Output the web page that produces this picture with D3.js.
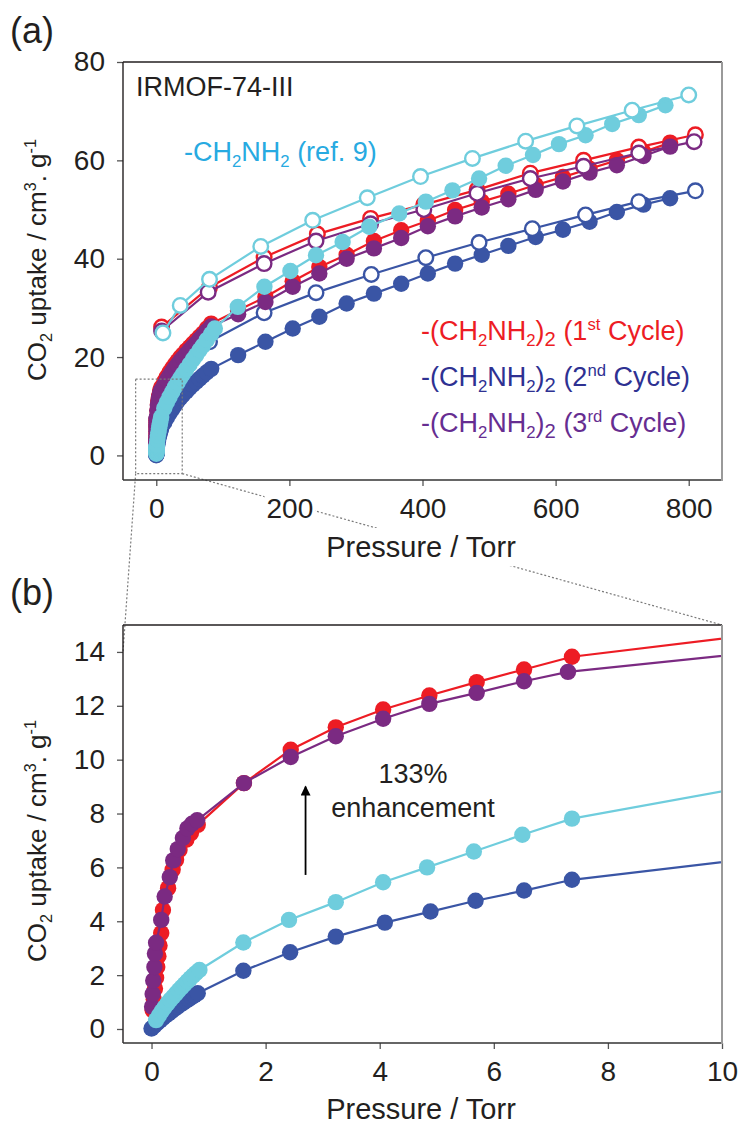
<!DOCTYPE html>
<html>
<head>
<meta charset="utf-8">
<script src="https://cdn.jsdelivr.net/npm/d3@7"></script>
<style>
  body { margin: 0; background: #fff; }
  svg { font-family: "Liberation Sans", Arial, Helvetica, sans-serif; }
</style>
</head>
<body>
<svg id="chart" width="740" height="1124"></svg>
<script>
// pressure (Torr), CO2 uptake (cm3/g)
// filled = adsorption, open = desorption

var cycle1Ads = [
  [0.02,0.7],[0.04,1.1],[0.06,1.5],[0.08,1.9],[0.10,2.3],[0.12,2.7],[0.14,3.1],[0.17,3.56],
  [0.20,4.42],[0.29,5.23],[0.37,5.91],[0.43,6.28],[0.49,6.65],[0.61,7.03],[0.69,7.27],[0.81,7.58],
  [1.62,9.13],[2.44,10.37],[3.23,11.2],[4.06,11.86],[4.87,12.38],[5.70,12.88],[6.53,13.35],[7.37,13.82],
  [12,15.0],[16,16.0],[20,16.9],[24,17.7],[28,18.5],[32,19.2],[36,19.9],[40,20.5],[45,21.3],
  [50,22.0],[55,22.7],[60,23.4],[65,24.1],[70,24.8],[76,25.8],[82.5,26.8],
  [123,29.5],[164,32.2],[205,35.4],[245,38.3],[286,40.8],[327,43.6],[368,45.8],[408,47.7],
  [449,49.9],[489,51.6],[529,53.2],[570,55.0],[611,56.6],[651,58.3],[692,60.0],[732,61.7],[772,63.6]
];
var cycle1Des = [
  [810,65.2],[725,62.7],[642,60.0],[562,57.4],[482,54.0],[402,51.0],[322,48.2],[242,45.0],
  [162,40.3],[80,34.2],[8,26.1]
];

var cycle2Ads = [
  [0.0,0.02],[0.05,0.12],[0.1,0.22],[0.15,0.32],[0.2,0.41],[0.25,0.5],[0.3,0.58],[0.35,0.66],
  [0.4,0.74],[0.45,0.82],[0.5,0.9],[0.55,0.97],[0.6,1.04],[0.65,1.11],[0.7,1.18],[0.75,1.25],[0.81,1.33],
  [1.61,2.16],[2.43,2.85],[3.23,3.43],[4.09,3.95],[4.89,4.36],[5.68,4.76],[6.53,5.14],[7.37,5.54],
  [12,6.7],[16,7.7],[20,8.6],[24,9.4],[28,10.2],[32,11.0],[36,11.7],[40,12.3],[45,13.0],
  [50,13.7],[55,14.4],[60,15.0],[65,15.6],[70,16.2],[76,16.9],[82.5,17.6],
  [123,20.4],[164,23.1],[205,25.8],[245,28.2],[286,30.9],[327,32.9],[368,34.9],[408,37.0],
  [449,39.0],[489,40.8],[529,42.6],[570,44.4],[611,45.9],[651,47.5],[692,49.5],[732,51.0],[772,52.3]
];
var cycle2Des = [
  [810,53.8],[725,51.6],[645,48.9],[565,46.1],[485,43.3],[405,40.2],[323,36.8],[240,33.1],
  [162,29.0],[80,23.1]
];

var cycle3Ads = [
  [0.01,0.83],[0.02,1.3],[0.03,1.8],[0.05,2.3],[0.06,2.8],[0.08,3.2],[0.17,4.05],[0.23,4.92],
  [0.32,5.64],[0.38,6.26],[0.46,6.68],[0.55,7.09],[0.63,7.45],[0.71,7.62],[0.80,7.75],
  [1.62,9.13],[2.44,10.1],[3.23,10.87],[4.06,11.52],[4.87,12.07],[5.70,12.48],[6.53,12.91],[7.30,13.26],
  [12,14.3],[16,15.3],[20,16.2],[24,17.0],[28,17.8],[32,18.5],[36,19.2],[40,19.8],[45,20.6],
  [50,21.4],[55,22.1],[60,22.8],[65,23.6],[70,24.3],[76,25.3],[82.5,26.2],
  [123,28.7],[164,31.2],[205,34.3],[245,37.0],[286,40.0],[327,42.1],[368,44.2],[408,46.6],
  [449,48.6],[489,50.4],[529,52.1],[570,54.0],[611,55.7],[651,57.5],[692,59.0],[732,60.9],[772,62.8]
];
var cycle3Des = [
  [808,63.8],[725,61.5],[642,58.8],[562,56.3],[482,53.3],[402,50.0],[322,47.1],[240,43.6],
  [162,39.0],[78,33.2],[8,25.3]
];

var refAds = [
  [0.08,0.33],[0.13,0.5],[0.18,0.66],[0.23,0.81],[0.28,0.95],[0.33,1.08],[0.38,1.2],[0.43,1.32],
  [0.48,1.44],[0.53,1.55],[0.58,1.66],[0.63,1.77],[0.68,1.88],[0.73,1.98],[0.78,2.08],[0.84,2.19],
  [1.61,3.21],[2.41,4.05],[3.23,4.71],[4.06,5.45],[4.83,6.0],[5.65,6.59],[6.50,7.21],[7.37,7.81],
  [12,9.6],[16,10.8],[20,11.9],[24,12.9],[28,13.9],[32,14.8],[36,15.7],[40,16.5],[45,17.5],
  [50,18.5],[55,19.5],[60,20.4],[65,21.4],[70,22.3],[76,23.5],[82.5,24.7],[88,25.8],
  [122.5,30.2],[162.5,34.3],[201.5,37.5],[240,40.7],[280,43.4],[320,46.5],[365,49.2],[405,51.6],
  [445,53.9],[485,56.3],[525,58.9],[566,61.1],[605,63.3],[645,65.1],[685,67.4],[725,69.2],[765,71.2]
];
var refDes = [
  [800,73.3],[715,70.2],[632,67.0],[555,63.9],[475,60.4],[397,56.7],[317,52.4],[235,47.8],
  [157,42.5],[80,35.8],[36,30.5],[10,24.9]
];

var topXTicks = [0, 200, 400, 600, 800];
var topYTicks = [0, 20, 40, 60, 80];
var zoomXTicks = [0, 2, 4, 6, 8, 10];
var zoomYTicks = [0, 2, 4, 6, 8, 10, 12, 14];

// part of (a) that is blown up in (b)
var zoomBoxX = [-31, 39];
var zoomBoxY = [-3.7, 15.5];

var cycleNames = ["1", "2", "3"];
var cycleSuffix = ["st", "nd", "rd"];
var textColors = ["#ED1C24", "#2E3192", "#662D91"];

// draw order: 2nd cycle at the back, ref. 9 on top
var series = [
  {ads: cycle2Ads, des: cycle2Des, color: "#3A55A5"},
  {ads: cycle1Ads, des: cycle1Des, color: "#ED1C24"},
  {ads: cycle3Ads, des: cycle3Des, color: "#7B2A82"},
  {ads: refAds, des: refDes, color: "#6FCDDD"}
];

var svg = d3.select("#chart");
var defs = svg.append("defs");

var xTop = d3.scaleLinear().domain([-50, 850]).range([123, 722]);
var yTop = d3.scaleLinear().domain([-5, 80]).range([480, 62]);
var xZoom = d3.scaleLinear().domain([-0.5, 10]).range([123, 722]);
var yZoom = d3.scaleLinear().domain([-0.52, 15]).range([1043, 625]);

// sub / superscript helper
function rich(t, parts, size) {
  var shift = 0;
  parts.forEach(function(p) {
    var target = 0, fs = size;
    if (p[1] === "sub") { target = size * 0.24; fs = size * (p[2] || 0.62); }
    if (p[1] === "sup") { target = -size * 0.38; fs = size * 0.62; }
    t.append("tspan").attr("font-size", fs).attr("dy", target - shift).text(p[0]);
    shift = target;
  });
  return t;
}

function whiteBehind(textSel, pad) {
  textSel.each(function() {
    var b = this.getBBox();
    d3.select(this.parentNode).insert("rect", "text")
      .attr("x", b.x - pad).attr("y", b.y - pad)
      .attr("width", b.width + 2 * pad).attr("height", b.height + 2 * pad)
      .attr("fill", "#fff");
  });
}

// dotted connectors between the panels, at the very back
var boxLeft = xTop(zoomBoxX[0]), boxRight = xTop(zoomBoxX[1]), boxBottom = yTop(zoomBoxY[0]);
var connectors = svg.append("g")
  .attr("stroke", "#7a7a7a").attr("stroke-width", 1.2).attr("stroke-dasharray", "2,2").attr("fill", "none");
connectors.append("line")
  .attr("x1", boxLeft).attr("y1", boxBottom)
  .attr("x2", xZoom(-0.5)).attr("y2", yZoom(14));
connectors.append("line")
  .attr("x1", boxRight).attr("y1", boxBottom)
  .attr("x2", xZoom(10)).attr("y2", yZoom(15));

function drawPanel(x, y, showDes, clipId, xTicks, yTicks) {
  var g = svg.append("g");
  var x0 = x.range()[0], x1 = x.range()[1], y0 = y.range()[0], y1 = y.range()[1];

  var line = d3.line().x(function(d) { return x(d[0]); }).y(function(d) { return y(d[1]); });

  var plot = g.append("g");
  if (clipId) {
    defs.append("clipPath").attr("id", clipId).append("rect")
      .attr("x", x0).attr("y", y1).attr("width", x1 - x0).attr("height", y0 - y1);
    plot.attr("clip-path", "url(#" + clipId + ")");
  }

  series.forEach(function(s) {
    var sg = plot.append("g");
    sg.append("path").datum(s.ads).attr("d", line)
      .attr("fill", "none").attr("stroke", s.color).attr("stroke-width", 2.2);
    sg.selectAll(".ads").data(s.ads).enter().append("circle")
      .attr("class", "ads")
      .attr("cx", function(d) { return x(d[0]); })
      .attr("cy", function(d) { return y(d[1]); })
      .attr("r", 8.2).attr("fill", s.color);
    if (showDes) {
      sg.append("path").datum(s.des).attr("d", line)
        .attr("fill", "none").attr("stroke", s.color).attr("stroke-width", 2.2);
      sg.selectAll(".des").data(s.des).enter().append("circle")
        .attr("class", "des")
        .attr("cx", function(d) { return x(d[0]); })
        .attr("cy", function(d) { return y(d[1]); })
        .attr("r", 7.3).attr("fill", "#fff").attr("stroke", s.color).attr("stroke-width", 2.4);
    }
  });

  // axes
  var ax = g.append("g").attr("transform", "translate(0," + y0 + ")")
    .call(d3.axisBottom(x).tickValues(xTicks).tickSize(6).tickPadding(12));
  var ay = g.append("g").attr("transform", "translate(" + x0 + ",0)")
    .call(d3.axisLeft(y).tickValues(yTicks).tickSize(6).tickPadding(12));
  [ax, ay].forEach(function(a) {
    a.select(".domain").remove();
    a.attr("font-size", 28).attr("font-family", null);
    a.selectAll(".tick line").attr("stroke", "#555").attr("stroke-width", 1.3);
    a.selectAll(".tick text").attr("fill", "#231F20");
  });

  // frame
  var frame = g.append("g").attr("fill", "none");
  frame.append("line").attr("x1", x0).attr("x2", x1).attr("y1", y1).attr("y2", y1)
    .attr("stroke", "#231F20").attr("stroke-width", 1.4);
  frame.append("line").attr("x1", x0).attr("x2", x0).attr("y1", y1).attr("y2", y0)
    .attr("stroke", "#231F20").attr("stroke-width", 1.4);
  frame.append("line").attr("x1", x0).attr("x2", x1).attr("y1", y0).attr("y2", y0)
    .attr("stroke", "#333").attr("stroke-width", 1.4);
  frame.append("line").attr("x1", x1).attr("x2", x1).attr("y1", y1).attr("y2", y0 + 1)
    .attr("stroke", "#9a9a9a").attr("stroke-width", 2);

  return {g: g, ax: ax};
}

var panelA = drawPanel(xTop, yTop, true, null, topXTicks, topYTicks);
var panelB = drawPanel(xZoom, yZoom, false, "zoomClip", zoomXTicks, zoomYTicks);

whiteBehind(panelA.ax.selectAll(".tick text"), 2);

// dotted box in (a)
svg.append("rect")
  .attr("x", boxLeft).attr("y", yTop(zoomBoxY[1]))
  .attr("width", boxRight - boxLeft).attr("height", boxBottom - yTop(zoomBoxY[1]))
  .attr("fill", "none").attr("stroke", "#7a7a7a").attr("stroke-width", 1.2).attr("stroke-dasharray", "2,2");

// axis titles
function xTitle(cx, baseline) {
  var g = svg.append("g");
  g.append("text").attr("x", cx).attr("y", baseline).attr("text-anchor", "middle")
    .attr("font-size", 29).attr("fill", "#231F20").text("Pressure / Torr");
  whiteBehind(g.select("text"), 3);
}
xTitle(421, 557);
xTitle(421, 1119);

function yTitle(cy) {
  var t = svg.append("text")
    .attr("transform", "translate(46," + cy + ") rotate(-90)")
    .attr("text-anchor", "middle").attr("font-size", 26).attr("fill", "#231F20");
  rich(t, [["CO"], ["2", "sub"], [" uptake / cm"], ["3", "sup"], [". g"], ["-1", "sup"]], 26);
}
yTitle(260);
yTitle(841);

// panel letters
svg.append("text").attr("x", 10).attr("y", 43).attr("font-size", 36).attr("fill", "#231F20").text("(a)");
svg.append("text").attr("x", 10).attr("y", 605).attr("font-size", 36).attr("fill", "#231F20").text("(b)");

// labels in (a)
svg.append("text").attr("x", 136).attr("y", 96).attr("font-size", 27).attr("fill", "#231F20").text("IRMOF-74-III");

rich(svg.append("text").attr("x", 184).attr("y", 161).attr("font-size", 27).attr("fill", "#27AAE1"),
  [["-CH"], ["2", "sub"], ["NH"], ["2", "sub"], [" (ref. 9)"]], 27);

cycleNames.forEach(function(n, i) {
  var t = svg.append("text").attr("x", 421).attr("y", 340 + i * 46)
    .attr("font-size", 27).attr("fill", textColors[i]);
  rich(t, [["-(CH"], ["2", "sub"], ["NH"], ["2", "sub"], [")"], ["2", "sub", 0.75],
           [" (" + n], [cycleSuffix[i], "sup"], [" Cycle)"]], 27);
});

// annotation in (b)
defs.append("marker").attr("id", "head")
  .attr("viewBox", "0 0 10 10").attr("refX", 9).attr("refY", 5)
  .attr("markerWidth", 12).attr("markerHeight", 10).attr("markerUnits", "userSpaceOnUse")
  .attr("orient", "auto")
  .append("path").attr("d", "M0,0 L10,5 L0,10 Z").attr("fill", "#000");
svg.append("line")
  .attr("x1", xZoom(2.7)).attr("y1", yZoom(5.72))
  .attr("x2", xZoom(2.7)).attr("y2", yZoom(9.0))
  .attr("stroke", "#000").attr("stroke-width", 1.8).attr("marker-end", "url(#head)");

svg.append("text").attr("x", 413).attr("y", 783).attr("text-anchor", "middle")
  .attr("font-size", 27).attr("fill", "#231F20").text("133%");
svg.append("text").attr("x", 413).attr("y", 817).attr("text-anchor", "middle")
  .attr("font-size", 27).attr("fill", "#231F20").text("enhancement");
</script>
</body>
</html>
